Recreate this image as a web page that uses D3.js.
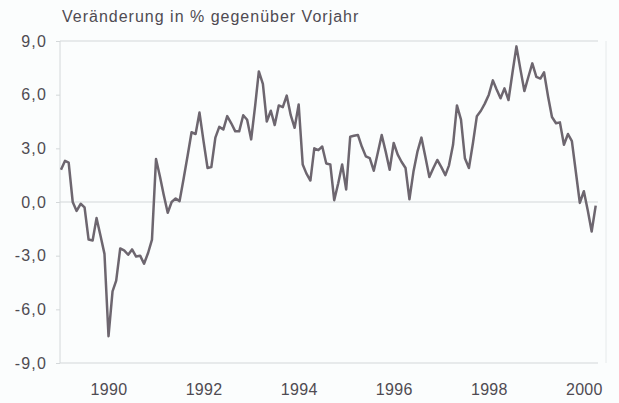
<!DOCTYPE html>
<html>
<head>
<meta charset="utf-8">
<script src="https://cdn.jsdelivr.net/npm/d3@7"></script>
<style>
  html, body { margin: 0; padding: 0; background: #fbfdfd; }
  svg { display: block; font-family: "Liberation Sans", Arial, sans-serif; }
</style>
</head>
<body>
<div id="area"></div>
<script>
// monthly values, Jan 1989 .. Apr 2000
var startYear = 1989,
    startMonth = 0;

var values = [
  1.8, 2.3, 2.2, 0.0, -0.5, -0.1, -0.3, -2.1, -2.15, -0.9, -1.9, -2.9,
  -7.5, -5.0, -4.4, -2.6, -2.7, -2.95, -2.65, -3.05, -3.0, -3.45, -2.85, -2.1,
  2.4, 1.4, 0.4, -0.6, 0.0, 0.2, 0.05, 1.3, 2.6, 3.9, 3.8, 5.0,
  3.4, 1.9, 1.95, 3.6, 4.2, 4.05, 4.8, 4.4, 3.95, 3.95, 4.85, 4.6,
  3.5, 5.4, 7.3, 6.6, 4.5, 5.1, 4.3, 5.4, 5.3, 5.95, 4.85, 4.15,
  5.45, 2.1, 1.6, 1.2, 3.0, 2.9, 3.1, 2.15, 2.1, 0.1, 1.05, 2.1,
  0.7, 3.65, 3.7, 3.75, 3.1, 2.55, 2.45, 1.75, 2.75, 3.75, 2.8, 1.8,
  3.3, 2.65, 2.25, 1.9, 0.15, 1.7, 2.8, 3.6, 2.5, 1.4, 1.9, 2.35,
  1.95, 1.5, 2.05, 3.2, 5.4, 4.6, 2.45, 1.9, 3.3, 4.8, 5.1, 5.5,
  6.0, 6.8, 6.3, 5.8, 6.35, 5.7, 7.2, 8.7, 7.4, 6.2, 7.0, 7.75,
  7.0, 6.9, 7.25, 5.9, 4.75, 4.4, 4.45, 3.2, 3.8, 3.4, 1.65, -0.05,
  0.6, -0.5, -1.65, -0.2
];

var yTicks = [9, 6, 3, 0, -3, -6, -9];
var gridLevels = [9, 0, -9];
var xTickYears = [1990, 1992, 1994, 1996, 1998, 2000];
var title = 'Veränderung in % gegenüber Vorjahr';

var width = 619,
    height = 403;

var text_color = '#4f4b52',
    line_color = '#6d666f',
    grid_color = '#d4d8da',
    font_size = '16px',
    font_family = '"Liberation Sans", Arial, sans-serif';

var data = values.map(function(v, i) {
  return { date: new Date(startYear, startMonth + i, 1), value: v };
});

var svg = d3.select('#area').append('svg')
    .attr('width', width)
    .attr('height', height);

var x = d3.scaleTime()
    .domain([data[0].date, data[data.length - 1].date])
    .range([61, 595.7]);

var y = d3.scaleLinear()
    .domain([-9, 9])
    .range([363, 41]);

var plotLeft = 60,
    plotRight = 606;

// horizontal lines at 9, 0, -9
svg.append('g').selectAll('line')
    .data(gridLevels)
    .enter().append('line')
    .attr('x1', plotLeft)
    .attr('x2', 598)
    .attr('y1', function(d) { return y(d); })
    .attr('y2', function(d) { return y(d); })
    .attr('stroke', grid_color)
    .attr('stroke-width', 1.2);

// left axis line, faint right edge
svg.append('line')
    .attr('x1', plotLeft).attr('x2', plotLeft)
    .attr('y1', y(9)).attr('y2', y(-9))
    .attr('stroke', grid_color)
    .attr('stroke-width', 1);

svg.append('line')
    .attr('x1', plotRight).attr('x2', plotRight)
    .attr('y1', y(9)).attr('y2', y(-9))
    .attr('stroke', '#e6eaeb')
    .attr('stroke-width', 1);

// y axis
var yAxis = d3.axisLeft(y)
    .tickValues(yTicks)
    .tickSize(4)
    .tickPadding(9)
    .tickFormat(function(d) { return d3.format('.1f')(d).replace('.', ',').replace('−', '-'); });

var yg = svg.append('g')
    .attr('transform', 'translate(' + plotLeft + ',0)')
    .call(yAxis);
yg.select('.domain').remove();
yg.selectAll('.tick line').attr('stroke', grid_color);
yg.selectAll('.tick text')
    .attr('fill', text_color)
    .attr('font-size', font_size)
    .attr('letter-spacing', '1.2px')
    .attr('font-family', font_family);

// x axis
var xAxis = d3.axisBottom(x)
    .tickValues(xTickYears.map(function(yr) { return new Date(yr, 0, 1); }))
    .tickSize(0)
    .tickPadding(0)
    .tickFormat(d3.timeFormat('%Y'));

var xg = svg.append('g')
    .attr('transform', 'translate(0,' + 384 + ')')
    .call(xAxis);
xg.select('.domain').remove();
xg.selectAll('.tick text')
    .attr('fill', text_color)
    .attr('font-size', font_size)
    .attr('letter-spacing', '0.3px')
    .attr('font-family', font_family);

// title
svg.append('text')
    .attr('x', 62)
    .attr('y', 22)
    .attr('fill', text_color)
    .attr('font-size', font_size)
    .attr('letter-spacing', '1px')
    .text(title);

// the series
var line = d3.line()
    .x(function(d) { return x(d.date); })
    .y(function(d) { return y(d.value); });

svg.append('path')
    .datum(data)
    .attr('fill', 'none')
    .attr('stroke', line_color)
    .attr('stroke-width', 2.5)
    .attr('stroke-linejoin', 'round')
    .attr('d', line);
</script>
</body>
</html>
